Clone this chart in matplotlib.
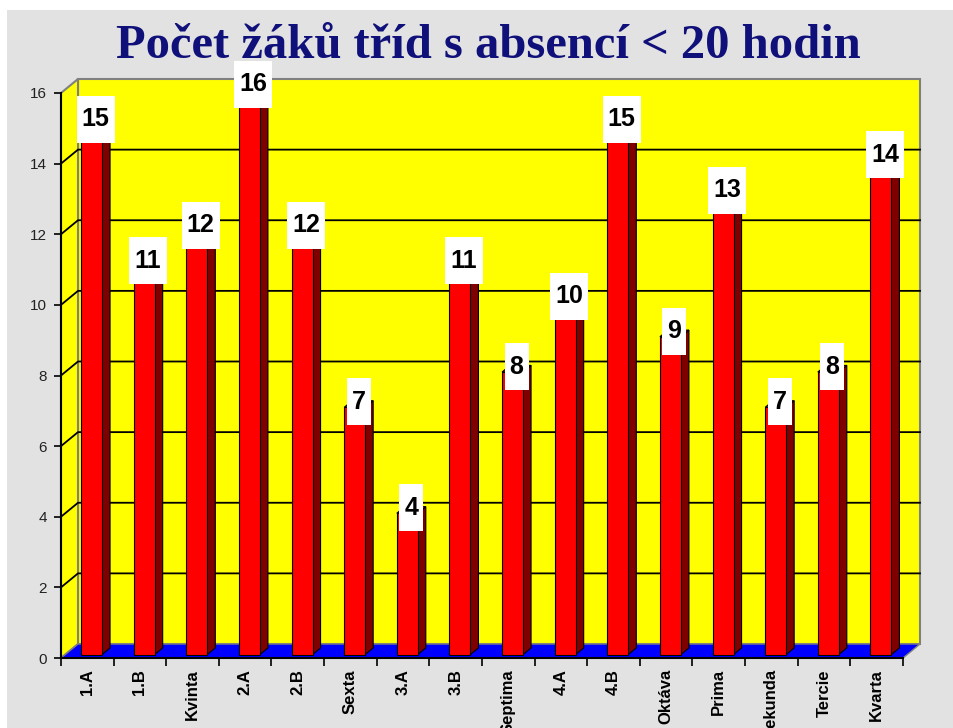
import matplotlib
matplotlib.use('Agg')
from matplotlib import pyplot as plt
from matplotlib.patches import Polygon, Rectangle
import numpy as np

# data
classes = ['1.A', '1.B', 'Kvinta', '2.A', '2.B', 'Sexta', '3.A', '3.B',
           'Septima', '4.A', '4.B', 'Oktáva', 'Prima', 'Sekunda', 'Tercie', 'Kvarta']
pupils = [15, 11, 12, 16, 12, 7, 4, 11, 8, 10, 15, 9, 13, 7, 8, 14]
yticks = [0, 2, 4, 6, 8, 10, 12, 14, 16]
title = 'Počet žáků tříd s absencí < 20 hodin'

W, H = 954, 728
fig = plt.figure(figsize=(W / 100, H / 100), dpi=100, facecolor='white')

# marble-ish background (plain grey)
fig.patches.append(Rectangle((7 / W, 0), 1, (H - 10) / H, transform=fig.transFigure,
                             facecolor='#e2e2e2', edgecolor='none', zorder=-10))

# front frame of the chart in pixels
x0, x1, y0, y1 = 61, 903, 658, 93
ax = fig.add_axes([x0 / W, (H - y0) / H, (x1 - x0) / W, (y0 - y1) / H])
n = len(classes)
ymax = 16
ax.set_xlim(0, n)
ax.set_ylim(0, ymax)
ax.patch.set_visible(False)

px = n / (x1 - x0)       # data units per pixel, x
py = ymax / (y0 - y1)    # data units per pixel, y
dx, dy = 17 * px, 14 * py  # depth offset of the back wall

yellow, blue, red, dark = '#ffff00', '#0000ff', '#ff0000', '#800000'
wall_edge = '#808080'

# back wall, side wall, floor
ax.add_patch(Polygon([(dx, dy), (n + dx, dy), (n + dx, ymax + dy), (dx, ymax + dy)],
                     closed=True, facecolor=yellow, edgecolor=wall_edge, lw=1.5,
                     clip_on=False, zorder=1))
ax.add_patch(Polygon([(0, 0), (dx, dy), (dx, ymax + dy), (0, ymax)],
                     closed=True, facecolor=yellow, edgecolor=wall_edge, lw=1.5,
                     clip_on=False, zorder=1))
ax.add_patch(Polygon([(0, 0), (n, 0), (n + dx, dy), (dx, dy)],
                     closed=True, facecolor=blue, edgecolor=wall_edge, lw=1,
                     clip_on=False, zorder=1))

# gridlines on the walls
for v in yticks[1:-1]:
    ax.plot([0, dx, n + dx], [v, v + dy, v + dy], color='black', lw=1.3,
            clip_on=False, zorder=2)

# bars
f0, f1 = 0.25, 0.72
bw = 21 * px
for i, v in enumerate(pupils):
    xl = i + 0.5 - bw / 2 + f0 * dx
    yb = f0 * dy
    xr = xl + bw
    sx, sy = (f1 - f0) * dx, (f1 - f0) * dy
    side = [(xr, yb), (xr + sx, yb + sy), (xr + sx, v + yb + sy), (xr, v + yb)]
    top = [(xl, v + yb), (xr, v + yb), (xr + sx, v + yb + sy), (xl + sx, v + yb + sy)]
    ax.add_patch(Polygon(side, closed=True, facecolor=dark, edgecolor='black',
                         lw=0.8, clip_on=False, zorder=3))
    ax.add_patch(Polygon(top, closed=True, facecolor=red, edgecolor='black',
                         lw=0.8, clip_on=False, zorder=3))
    ax.add_patch(Rectangle((xl, yb), bw, v, facecolor=red, edgecolor='black',
                           lw=0.8, clip_on=False, zorder=4))

    # value label in a white box
    cx = i + 0.5 + f0 * dx + sx / 2
    cy = v + 0.25
    txt = str(v)
    bwid = (14 * len(txt) + 10) * px
    bhgt = 47 * py
    ax.add_patch(Rectangle((cx - bwid / 2, cy - bhgt / 2), bwid, bhgt,
                           facecolor='white', edgecolor='none', clip_on=False, zorder=5))
    ax.text(cx, cy, txt, ha='center', va='center', fontsize=18, fontweight='bold',
            family='Liberation Sans', color='black', zorder=6, clip_on=False)

# axes
for s in ['top', 'right']:
    ax.spines[s].set_visible(False)
for s in ['left', 'bottom']:
    ax.spines[s].set_color('black')
    ax.spines[s].set_linewidth(1.5)
    ax.spines[s].set_zorder(7)

ax.set_yticks(yticks)
ax.set_yticklabels([str(t) for t in yticks], fontsize=11, family='Liberation Sans',
                   color='#222222')
ax.tick_params(axis='y', direction='out', length=5, width=1.2, pad=5)

ax.set_xticks(np.arange(n + 1))
ax.set_xticklabels([])
ax.tick_params(axis='x', which='major', direction='out', length=6, width=1.2)
ax.set_xticks(np.arange(n) + 0.5, minor=True)
ax.set_xticklabels(classes, minor=True, rotation=90, fontsize=12, fontweight='bold',
                   family='Liberation Sans', va='top', ha='center')
ax.tick_params(axis='x', which='minor', length=0, pad=8)

fig.text(488 / W, (H - 46) / H, title, ha='center', va='center', fontsize=35,
         fontweight='bold', family='Liberation Serif', color='#10107a')

fig.savefig('out.png', dpi=100, facecolor=fig.get_facecolor())
